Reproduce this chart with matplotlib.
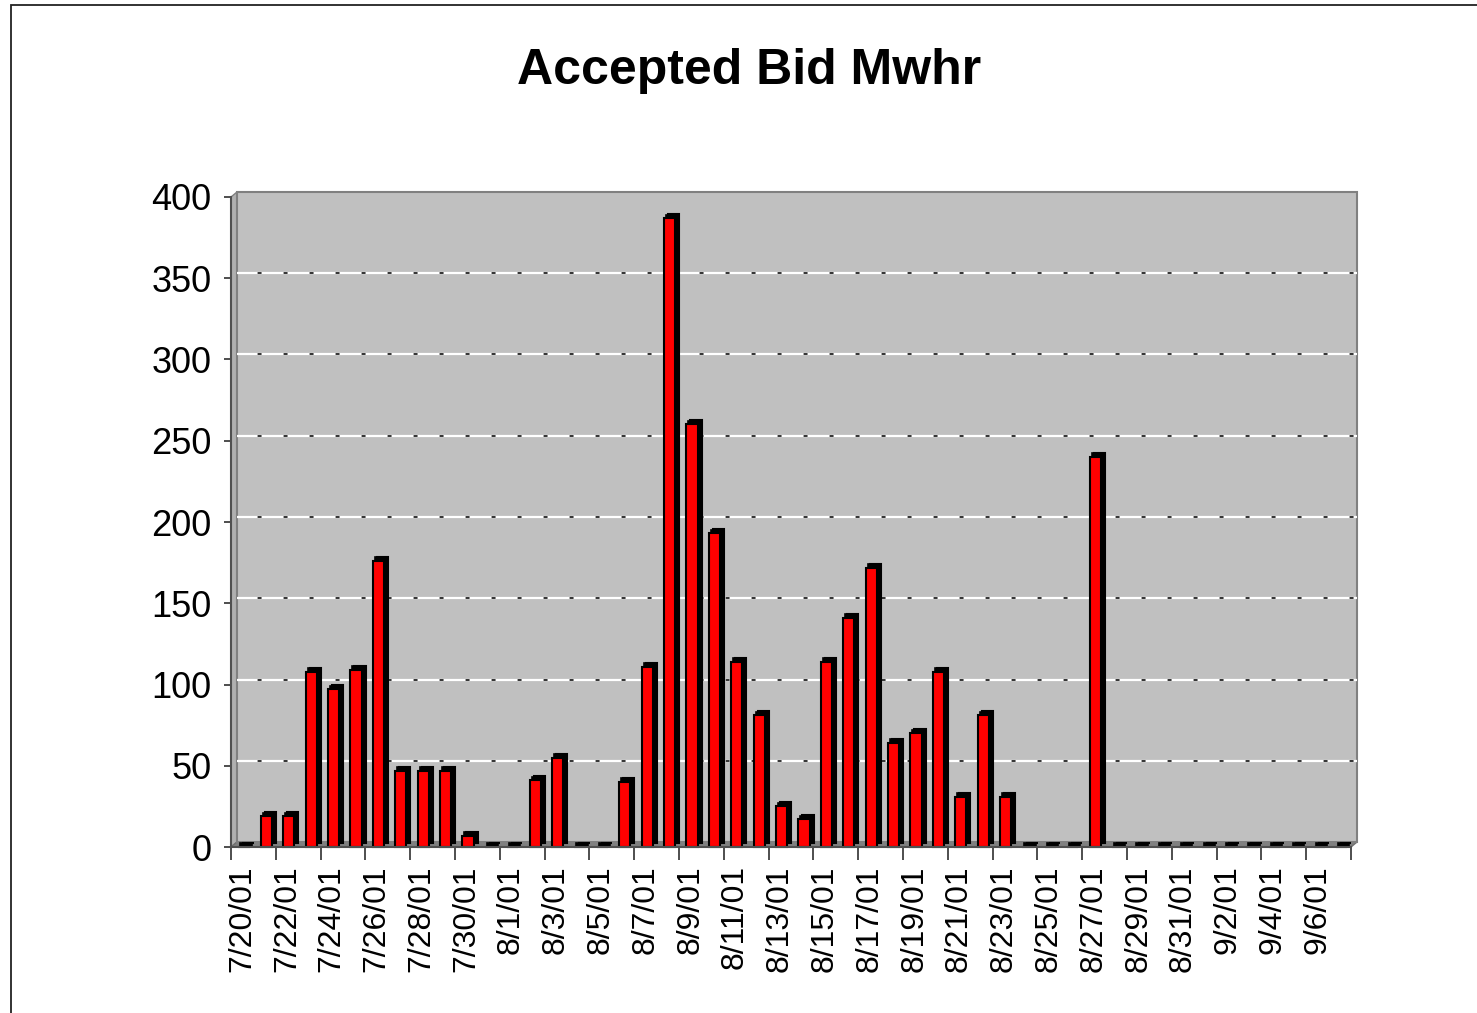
import matplotlib
matplotlib.use("Agg")
import matplotlib.pyplot as plt
import matplotlib.transforms as mtransforms
from matplotlib.patches import Rectangle, Polygon
import pandas as pd

plt.rcParams['font.family'] = ['Liberation Sans', 'DejaVu Sans']

title = "Accepted Bid Mwhr"
dates = [d.strftime('%-m/%-d/%y') for d in pd.date_range('2001-07-20', '2001-09-07', freq='D')]
values = [0, 19, 19, 108, 97, 109, 176, 47, 47, 47,
          7, 0, 0, 41, 55, 0, 0, 40, 111, 387,
          260, 193, 114, 81, 25, 17, 114, 141, 172, 64,
          70, 108, 31, 81, 31, 0, 0, 0, 240, 0,
          0, 0, 0, 0, 0, 0, 0, 0, 0, 0]
yticks = [0, 50, 100, 150, 200, 250, 300, 350, 400]

W, H = 1477, 1013
fig = plt.figure(figsize=(W / 100, H / 100), dpi=100)
fig.patch.set_facecolor('white')

# outer frame
fig.patches.append(Rectangle((11 / W, -0.1), 1.2, (H - 5) / H + 0.1, transform=fig.transFigure,
                             fill=False, edgecolor='#222222', linewidth=1.3, zorder=-2))

ax = fig.add_axes([231 / W, 166 / H, 1120 / W, 650 / H])
ax.set_facecolor('none')
n = len(values)
x = [i + 0.08 for i in range(n)]
ax.set_xlim(-0.5, n - 0.5)
ax.set_ylim(0, 400)

DX, DY = 6, 5
back = mtransforms.offset_copy(ax.transData, fig=fig, x=DX, y=DY, units='dots')

# back wall
ax.add_patch(Rectangle((-0.5, 0), n, 400, transform=back, facecolor='#c0c0c0',
                       edgecolor='#808080', linewidth=1.5, zorder=0, clip_on=False))
# left wall and floor (computed through the axes transform)
fig.canvas.draw()
p0 = ax.transData.transform((-0.5, 0))
p1 = ax.transData.transform((-0.5, 400))
p2 = ax.transData.transform((n - 0.5, 0))
inv = fig.transFigure.inverted()
def f(pt):
    return inv.transform(pt)
left_wall = [f(p0), f(p1), f((p1[0] + DX, p1[1] + DY)), f((p0[0] + DX, p0[1] + DY))]
floor = [f(p0), f((p0[0] + DX, p0[1] + DY)), f((p2[0] + DX, p2[1] + DY)), f(p2)]
fig.patches.append(Polygon(left_wall, closed=True, transform=fig.transFigure,
                           facecolor='#b0b0b0', edgecolor='#808080', linewidth=1.0, zorder=-1))
fig.patches.append(Polygon(floor, closed=True, transform=fig.transFigure,
                           facecolor='#808080', edgecolor='#707070', linewidth=1.0, zorder=-1))

# gridlines on back wall
for v in yticks[1:-1]:
    ax.plot([-0.5, n - 0.5], [v, v], transform=back, color='white', lw=1.6,
            zorder=1, clip_on=False, solid_capstyle='butt')
    ax.plot([-0.5, n - 0.5], [v, v], transform=back, color='#222222', lw=1.3,
            ls=(3, (2.2, 12.2)), zorder=1.1, clip_on=False)

# bars: shadow (depth), top caps, then front face
bw = 0.5
shadow = mtransforms.offset_copy(ax.transData, fig=fig, x=4, y=4, units='dots')
ax.bar(x, values, width=bw, color='#000000', edgecolor='#000000', linewidth=1.5,
       transform=shadow, zorder=2, clip_on=False)
cap = mtransforms.offset_copy(ax.transData, fig=fig, x=2, y=0, units='dots')
ax.bar(x, [2.2] * n, bottom=values, width=bw, color='#000000', edgecolor='#000000',
       linewidth=1.2, transform=cap, zorder=2.5, clip_on=False)
ax.bar(x, values, width=bw, color='#ff0000', edgecolor='#000000', linewidth=1.5,
       zorder=3, clip_on=False)

# spines
for s in ['top', 'right']:
    ax.spines[s].set_visible(False)
for s in ['left', 'bottom']:
    ax.spines[s].set_color('#505050')
    ax.spines[s].set_linewidth(1.5)
    ax.spines[s].set_zorder(4)

ax.set_yticks(yticks)
ax.set_yticklabels([str(v) for v in yticks], fontsize=26)
ax.tick_params(axis='y', direction='out', length=5, width=1.3, color='#404040', pad=9)

ax.set_xticks(list(range(n))[::2])
ax.set_xticklabels(dates[::2], rotation=90, fontsize=23)
ax.set_xticks([i - 0.5 for i in range(0, n + 1, 2)], minor=True)
ax.tick_params(axis='x', which='major', length=0, pad=13)
ax.tick_params(axis='x', which='minor', direction='out', length=9, width=1.3, color='#404040')

fig.text(749 / W, 1 - 71 / H, title, ha='center', va='center', fontsize=36, fontweight='bold')

fig.savefig('out.png', dpi=100)
